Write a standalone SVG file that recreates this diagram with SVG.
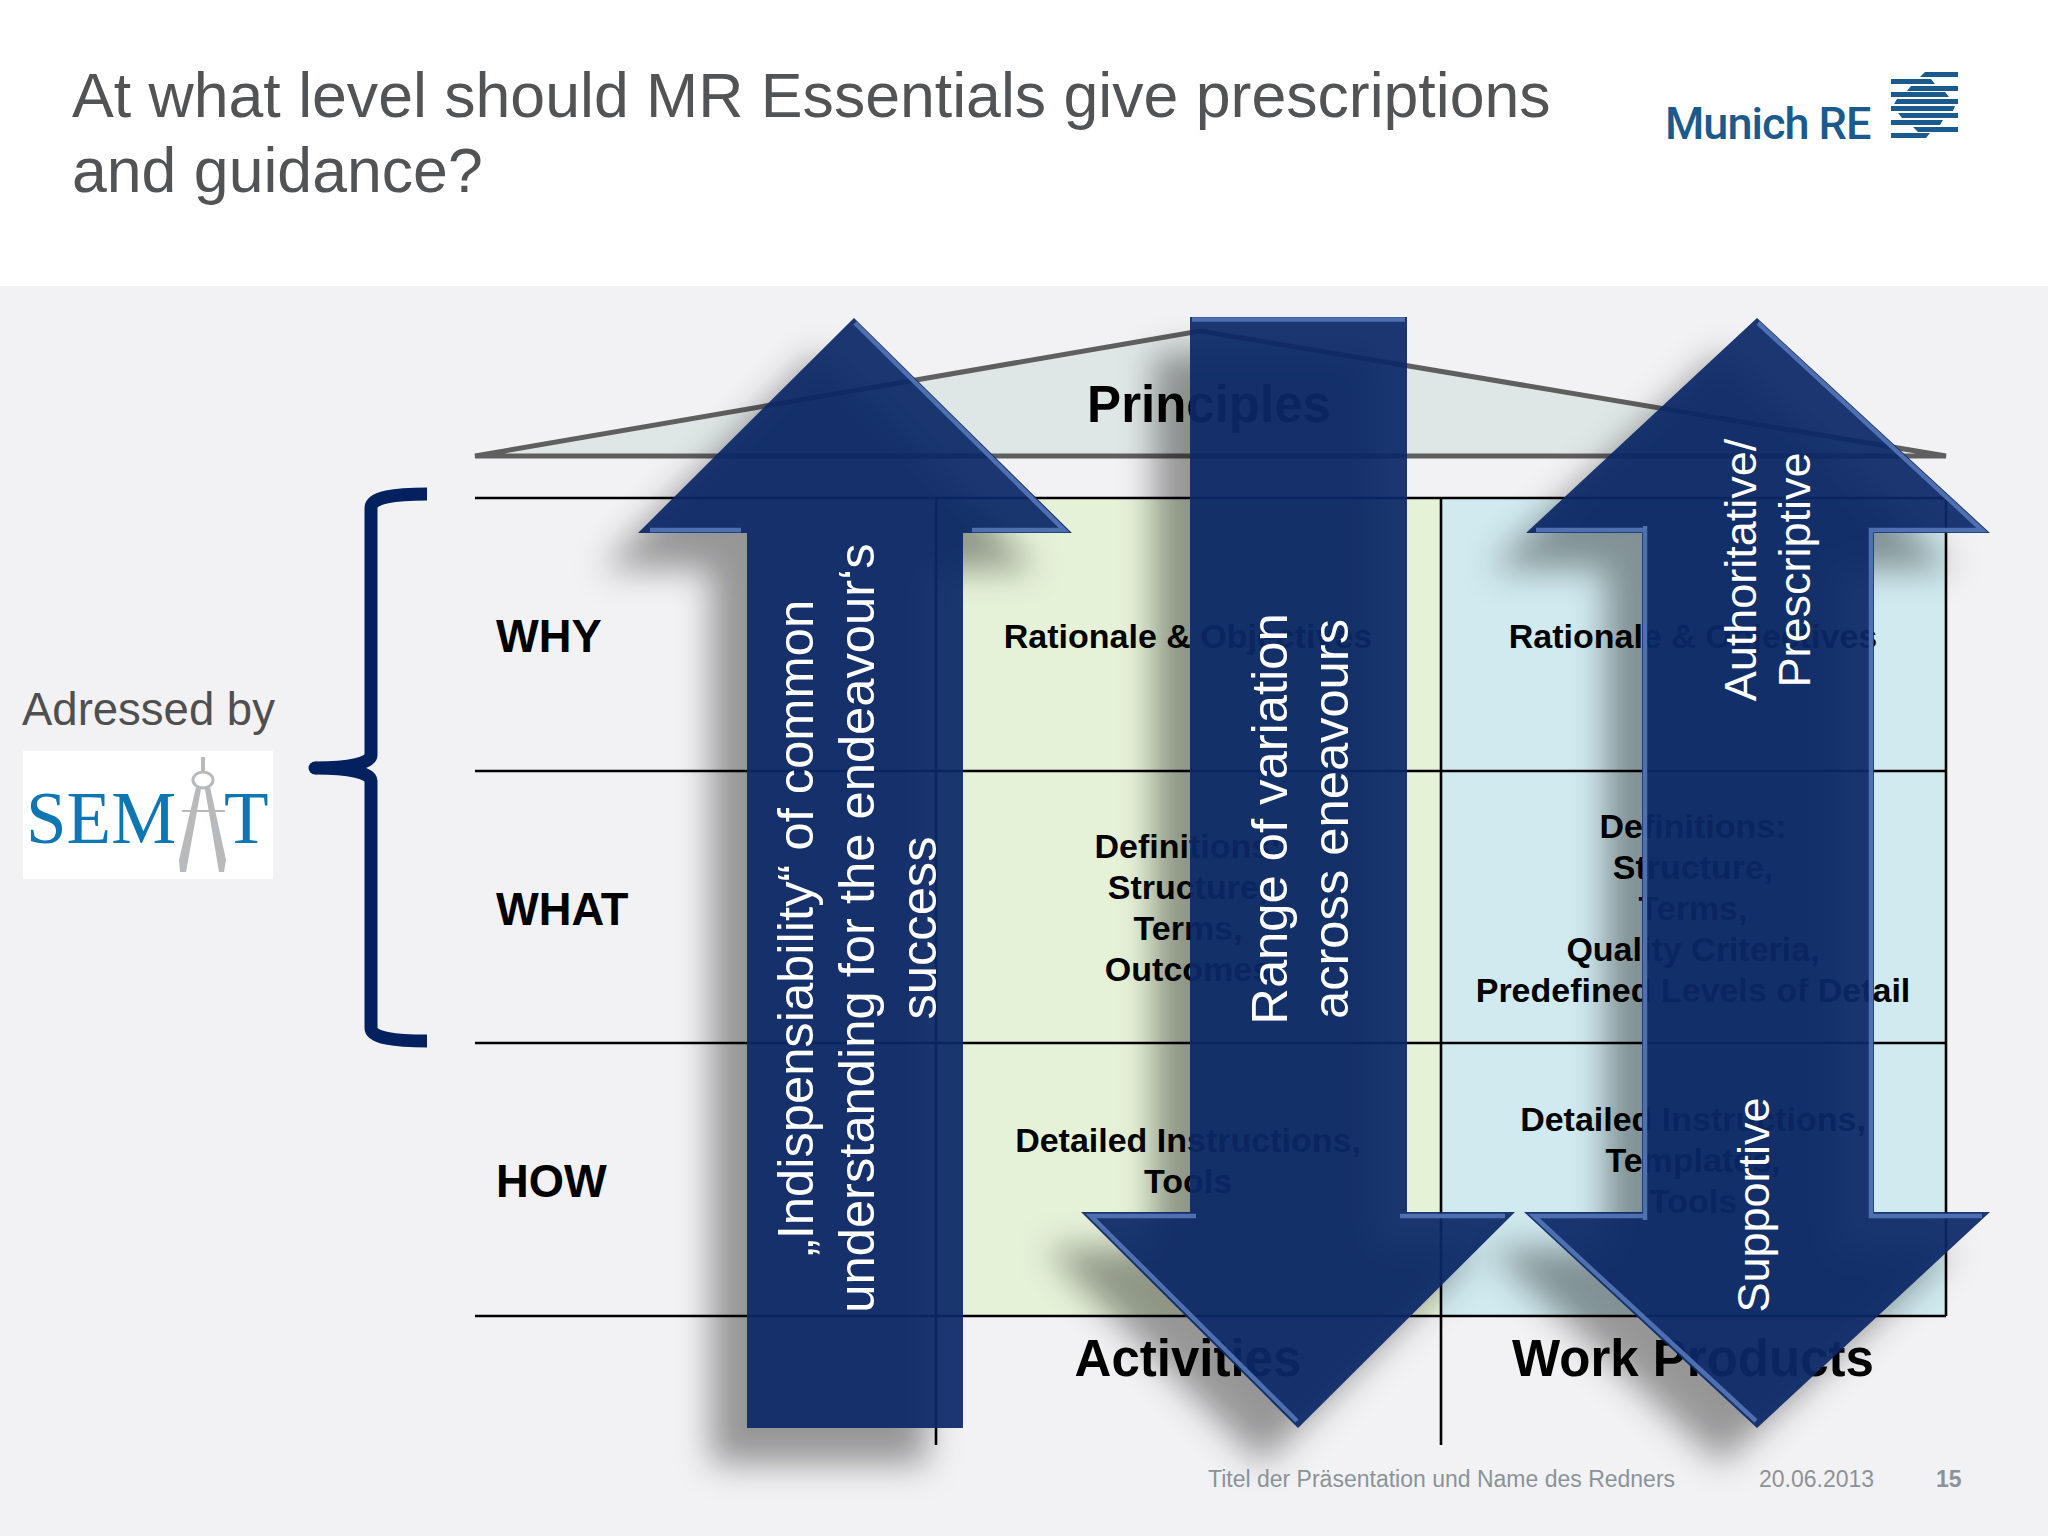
<svg xmlns="http://www.w3.org/2000/svg" width="2048" height="1536" viewBox="0 0 2048 1536">
<style>
text{font-family:"Liberation Sans",Arial,sans-serif}
.title{font-size:62.6px;fill:#525354}
.row{font-size:45.3px;font-weight:bold;fill:#000}
.cell{font-size:34px;font-weight:bold;fill:#000;text-anchor:middle}
.head{font-size:51px;font-weight:bold;fill:#000;text-anchor:middle}
.arrtxt{font-size:50.7px;fill:#fff;text-anchor:middle}
.arrtxt2{font-size:45px;fill:#fff;text-anchor:middle}
.foot{font-size:23px;fill:#8b9299}
.grid{stroke:#000;stroke-width:2.6;fill:none}
.arrow{fill:#0b2866;fill-opacity:.93}
.shadow{fill:#000;fill-opacity:.38;filter:url(#blur)}
.bevel{fill:none;stroke:#4f70b0;stroke-width:4.5;stroke-linejoin:miter}
</style>
<defs>
<filter id="blur" x="-30%" y="-30%" width="160%" height="160%"><feGaussianBlur stdDeviation="17"/></filter>
</defs>
<rect width="2048" height="1536" fill="#fff"/>
<rect y="286" width="2048" height="1250" fill="#f2f2f4"/>
<g id="title">
<text class="title" x="72" y="117">At what level should MR Essentials give prescriptions</text>
<text class="title" x="72" y="192">and guidance?</text>
</g>
<g id="munich-re-logo">
<text x="1665" y="139" style="font-family:Roboto,'Liberation Sans',sans-serif;font-weight:500;font-size:45px;letter-spacing:-1px;fill:#1b5a8c">Munich RE</text>
<g fill="#1b5a8c">
<polygon points="1925,72 1958,72 1958,77 1920,77"/>
<polygon points="1891,79 1931,79 1935,84 1891,84"/>
<polygon points="1911,86 1958,86 1958,91 1907,91"/>
<polygon points="1891,92 1945,92 1949,97 1891,97"/>
<polygon points="1897,99 1958,99 1958,104 1894,104"/>
<polygon points="1891,106 1955,106 1953,111 1891,111"/>
<polygon points="1898,113 1958,113 1958,118 1902,118"/>
<polygon points="1891,120 1943,120 1940,125 1891,125"/>
<polygon points="1913,127 1958,127 1958,132 1918,132"/>
<polygon points="1891,133 1930,133 1926,138 1891,138"/>
</g>
</g>
<g id="adressed-by">
<text x="22" y="725" style="font-size:45.500px;fill:#4f4f50">Adressed by</text>
</g>
<g id="semat-logo">
<rect x="23" y="751" width="250" height="128" fill="#fff"/>
<text x="26" y="843" style="font-family:'Liberation Serif',serif;font-size:73px;fill:#0f76b4">SEM</text>
<text x="224" y="843" style="font-family:'Liberation Serif',serif;font-size:73px;fill:#0f76b4">T</text>
<g fill="none" stroke="#b8b9bb">
<path d="M203 757V772" stroke-width="4"/>
<ellipse cx="203" cy="780" rx="10" ry="8" stroke-width="3"/>
<path d="M182 811H225" stroke-width="2"/>
</g>
<polygon points="196,787 201,789 186,872 180,872 179,860" fill="#b8b9bb"/>
<polygon points="205,789 210,787 226,860 224,872 219,872" fill="#b8b9bb"/>
</g>
<g id="brace">
<path d="M427 494C395 494 371 497 371 508V755C371 763 350 768 315 768C350 768 371 773 371 781V1028C371 1038 395 1041 427 1041" fill="none" stroke="#03215f" stroke-width="13"/>
<circle cx="315" cy="768" r="6.5" fill="#03215f"/>
</g>
<g id="principles-roof">
<polygon points="475,456 1200,331 1946,456" fill="#dfe7e6"/>
<path d="M475 456L1200 331L1946 456Z" fill="none" stroke="#5f5f5f" stroke-width="5"/>
<text class="head" x="1209" y="422">Principles</text>
</g>
<g id="matrix">
<rect x="936" y="498" width="505" height="818" fill="#e6f2d8"/>
<rect x="1441" y="498" width="505" height="818" fill="#d0eaef"/>
</g>
<g id="grid-lines">
<path class="grid" d="M475 498H1946M475 771H1946M475 1043H1946M475 1316H1946M936 498V1445M1441 498V1445M1946 498V1316"/>
</g>
<g id="row-why"><text class="row" x="496" y="652">WHY</text></g>
<g id="row-what"><text class="row" x="496" y="925">WHAT</text></g>
<g id="row-how"><text class="row" x="496" y="1197">HOW</text></g>
<g id="cell-activities-why"><text class="cell" x="1188" y="648">Rationale &amp; Objectives</text></g>
<g id="cell-products-why"><text class="cell" x="1693" y="648">Rationale &amp; Objectives</text></g>
<g id="cell-activities-what">
<text class="cell" x="1188" y="858">Definitions:</text>
<text class="cell" x="1188" y="899">Structure,</text>
<text class="cell" x="1188" y="940">Terms,</text>
<text class="cell" x="1188" y="981">Outcomes</text>
</g>
<g id="cell-products-what">
<text class="cell" x="1693" y="838">Definitions:</text>
<text class="cell" x="1693" y="879">Structure,</text>
<text class="cell" x="1693" y="920">Terms,</text>
<text class="cell" x="1693" y="961">Quality Criteria,</text>
<text class="cell" x="1693" y="1002">Predefined Levels of Detail</text>
</g>
<g id="cell-activities-how">
<text class="cell" x="1188" y="1152">Detailed Instructions,</text>
<text class="cell" x="1188" y="1193">Tools</text>
</g>
<g id="cell-products-how">
<text class="cell" x="1693" y="1131">Detailed Instructions,</text>
<text class="cell" x="1693" y="1172">Templates,</text>
<text class="cell" x="1693" y="1213">Tools</text>
</g>
<g id="col-activities"><text class="head" x="1188" y="1376">Activities</text></g>
<g id="col-products"><text class="head" x="1693" y="1376">Work Products</text></g>
<g id="connectors">
<g id="arrow-up">
<path class="shadow" transform="translate(-36,36)" d="M854 318L1072 533H963V1428H747V533H638Z"/>
<path class="arrow" d="M854 318L1072 533H963V1428H747V533H638Z"/>
<path class="bevel" d="M855 323L1064 530H972M741 530H650"/>
<text class="arrtxt" transform="translate(813,928) rotate(-90)">„Indispensiability“ of common</text>
<text class="arrtxt" transform="translate(874,928) rotate(-90)">understanding for the endeavour‘s</text>
<text class="arrtxt" transform="translate(936,928) rotate(-90)">success</text>
</g>
<g id="arrow-down">
<path class="shadow" transform="translate(-36,36)" d="M1190 317H1407V1212H1515L1298 1428L1081 1212H1190Z"/>
<path class="arrow" d="M1190 317H1407V1212H1515L1298 1428L1081 1212H1190Z"/>
<path class="bevel" d="M1192 319.500H1405M1196 1216H1091L1297 1421M1400 1216H1505"/>
<text class="arrtxt" transform="translate(1287,819) rotate(-90)">Range of variation</text>
<text class="arrtxt" transform="translate(1348,819) rotate(-90)">across eneavours</text>
</g>
<g id="arrow-both">
<path class="shadow" transform="translate(-36,36)" d="M1757 318L1990 533H1874V1212H1990L1757 1428L1524 1212H1642V533H1526Z"/>
<path class="arrow" d="M1757 318L1990 533H1874V1212H1990L1757 1428L1524 1212H1642V533H1526Z"/>
<path class="bevel" d="M1758 323L1982 530H1871V1216H1982M1645 530H1536M1645 526V1220M1645 1216H1534L1756 1421"/>
<text class="arrtxt2" transform="translate(1756,570) rotate(-90)">Authoritative/</text>
<text class="arrtxt2" transform="translate(1810,570) rotate(-90)">Prescriptive</text>
<text class="arrtxt2" transform="translate(1769,1205) rotate(-90)">Supportive</text>
</g>
</g>
<g id="footer">
<text class="foot" x="1208" y="1487">Titel der Präsentation und Name des Redners</text>
<text class="foot" x="1759" y="1487">20.06.2013</text>
<text class="foot" x="1936" y="1487" style="font-weight:bold">15</text>
</g>
</svg>
